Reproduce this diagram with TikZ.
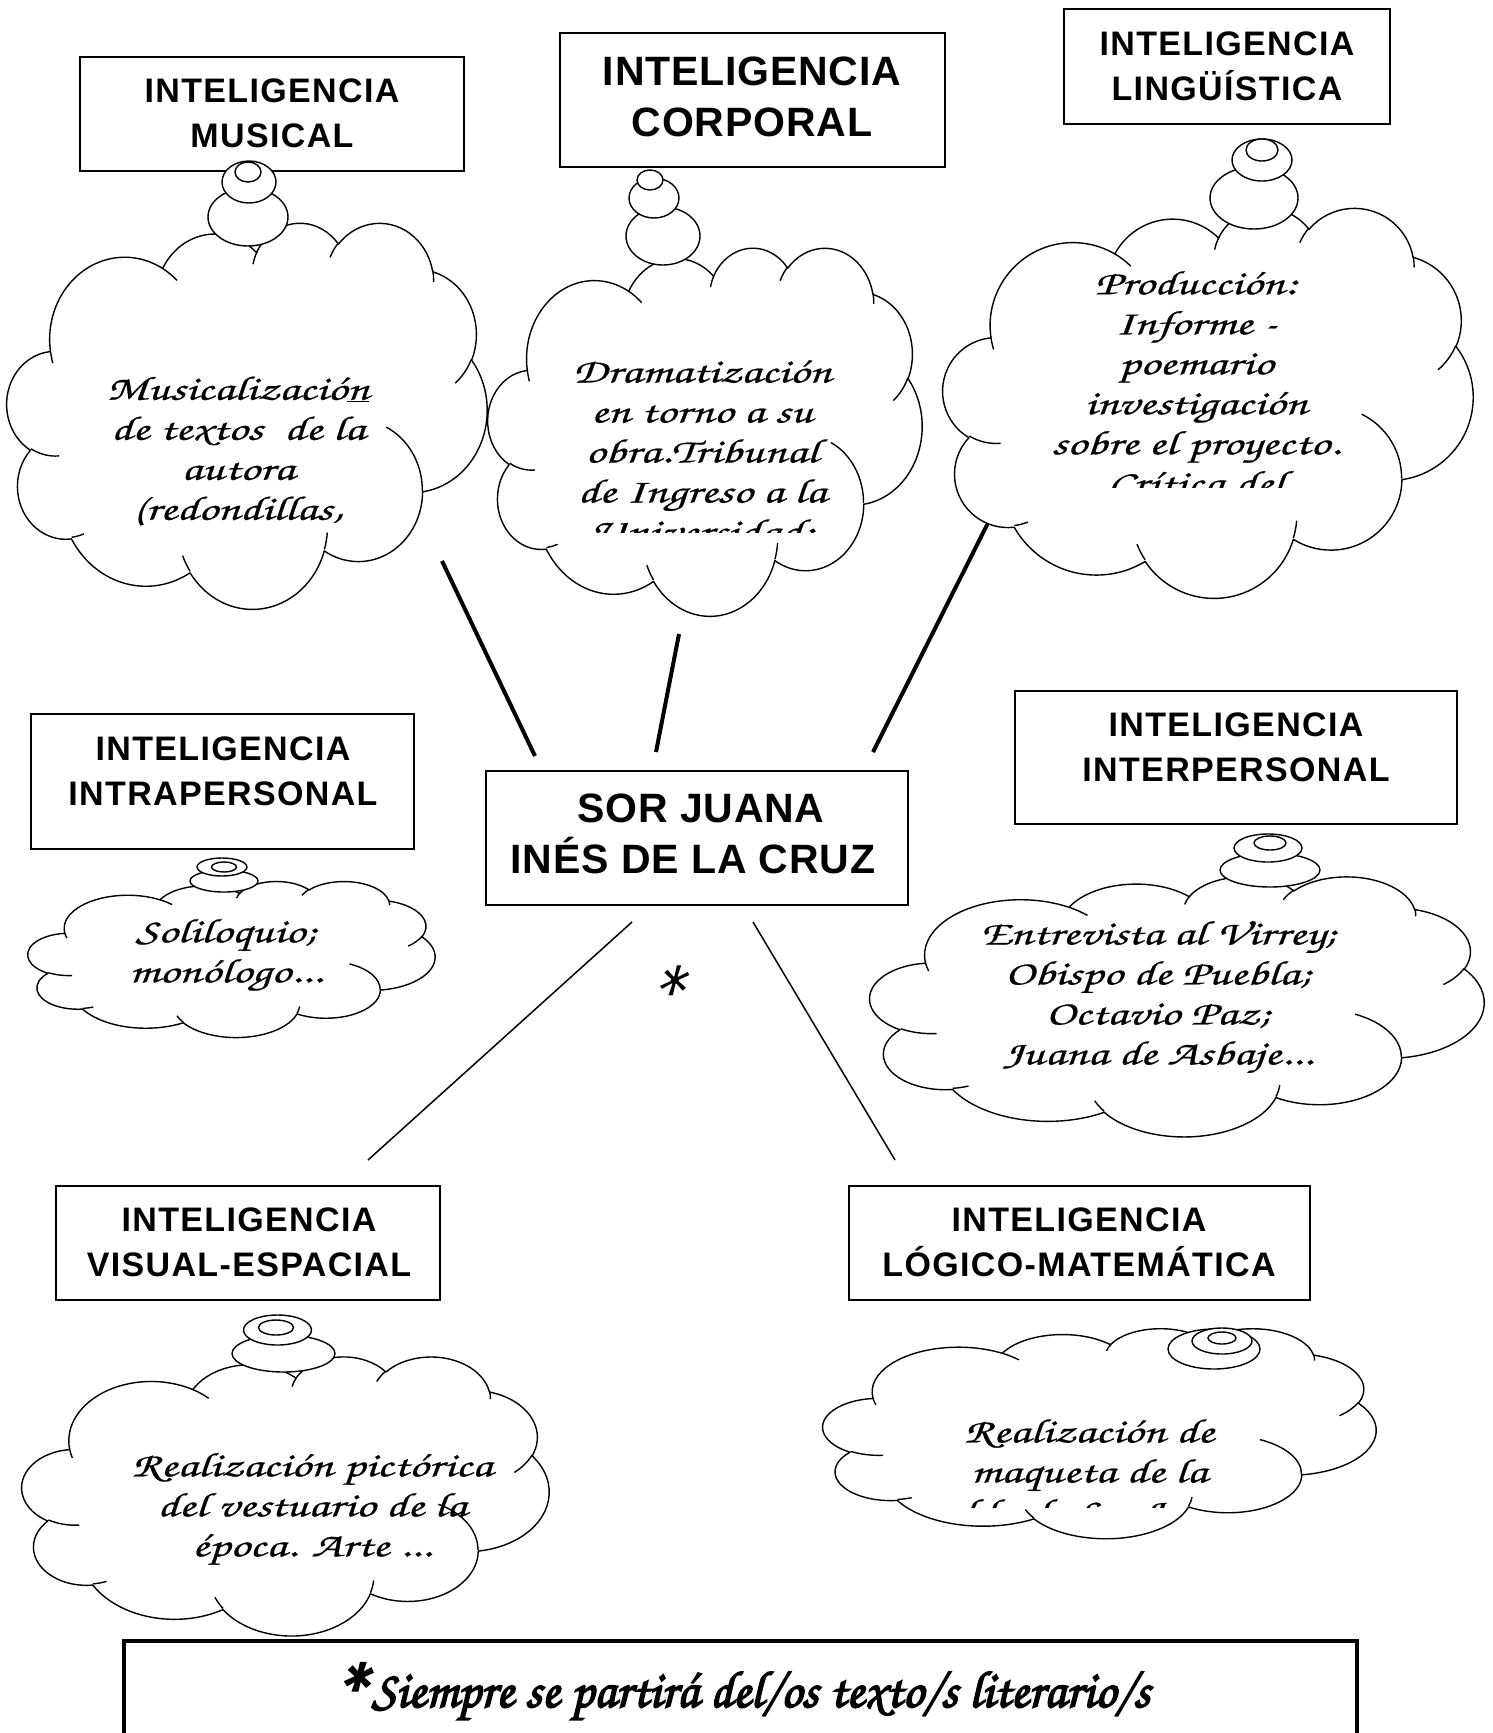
\documentclass[tikz,border=0pt]{standalone}
\usepackage{fontspec}
\setmainfont{Liberation Sans}
\newfontfamily\boxfont{Liberation Sans}[LetterSpace=4]
\newfontfamily\bigboxfont{Liberation Sans}[LetterSpace=2]
\newfontfamily\handfont{texgyrechorus-mediumitalic}[Extension=.otf,FakeStretch=1.43,FakeBold=0.6]
\newfontfamily\starfont{texgyrechorus-mediumitalic}[Extension=.otf]
\newfontfamily\notefont{texgyrechorus-mediumitalic}[Extension=.otf,FakeBold=3]

% ---- cloud geometry (DrawingML cloud, path box 432 x 432, y down) ----
\newcommand\cloudouter{}
\newcommand\cloudinner{}
\newcommand\mkarc[5]{%
  \pgfmathsetmacro\arcA{atan2((#2)*sin(#4),(#3)*cos(#4))}%
  \pgfmathsetmacro\arcB{atan2((#2)*sin((#4)+(#5)),(#3)*cos((#4)+(#5)))}%
  \pgfmathsetmacro\arcD{\arcB-\arcA}%
  \pgfmathsetmacro\arcD{\arcD<0?\arcD+360:\arcD}%
  \xdef#1{#1 arc[start angle=\arcA, delta angle=\arcD, x radius=#2, y radius=#3]}%
}
\mkarc\cloudouter{67.53}{91.90}{-190.4875}{123.7805}
\mkarc\cloudouter{53.33}{72.67}{-144.1024}{89.9452}
\mkarc\cloudouter{43.65}{59.45}{-145.8079}{99.7230}
\mkarc\cloudouter{48.57}{65.95}{-130.9861}{117.2417}
\mkarc\cloudouter{53.33}{72.73}{-78.7089}{109.0269}
\mkarc\cloudouter{67.75}{92.20}{-46.2673}{130.2690}
\mkarc\cloudouter{57.85}{78.67}{0.6250}{114.0333}
\mkarc\cloudouter{67.52}{92.15}{22.4516}{115.1726}
\mkarc\cloudouter{77.20}{105.43}{66.2426}{75.7110}
\mkarc\cloudouter{43.60}{59.18}{-274.9421}{146.7356}
\mkarc\cloudouter{43.45}{59.45}{-246.8285}{152.5189}
\xdef\cloudinner{\cloudinner (46.93,261.77)}\mkarc\cloudinner{43.45}{59.45}{86.7420}{26.4295}
\xdef\cloudinner{\cloudinner (69.28,348.99)}\mkarc\cloudinner{43.60}{59.18}{73.6105}{11.4475}
\xdef\cloudinner{\cloudinner (164.78,390.90)}\mkarc\cloudinner{67.52}{92.15}{137.6242}{14.0811}
\xdef\cloudinner{\cloudinner (288.27,347.51)}\mkarc\cloudinner{67.52}{92.15}{6.4533}{15.9984}
\xdef\cloudinner{\cloudinner (341.29,229.54)}\mkarc\cloudinner{57.85}{78.67}{-70.2924}{70.9174}
\xdef\cloudinner{\cloudinner (417.98,153.54)}\mkarc\cloudinner{53.33}{72.73}{30.3180}{27.7515}
\xdef\cloudinner{\cloudinner (383.24,54.26)}\mkarc\cloudinner{48.57}{65.95}{-13.7443}{14.8589}
\xdef\cloudinner{\cloudinner (290.78,39.52)}\mkarc\cloudinner{48.57}{65.95}{-149.1815}{18.1954}
\xdef\cloudinner{\cloudinner (221.41,47.20)}\mkarc\cloudinner{43.65}{59.45}{-163.4943}{17.6864}
\xdef\cloudinner{\cloudinner (140.00,51.92)}\mkarc\cloudinner{67.53}{91.90}{-66.7070}{12.3194}
\xdef\cloudinner{\cloudinner (41.27,157.89)}\mkarc\cloudinner{67.53}{91.90}{157.6544}{11.8582}

\newcommand\drawcloud[4]{% x0 y0 W H  (pixels, y down)
  \pgfmathsetmacro\cldx{#3/432}\pgfmathsetmacro\cldy{#4/432}%
  \begin{scope}[shift={(#1,#2)}, x={(\cldx pt,0pt)}, y={(0pt,-\cldy pt)}]
    \draw[cloudline,fill=white] (39,143.7) \cloudouter -- cycle;
    \draw[cloudline] \cloudinner;
  \end{scope}}

\begin{document}
\begin{tikzpicture}[x=1pt,y=-1pt,
  cloudline/.style={line width=1.4pt, line join=round},
  bubble/.style={line width=1.4pt, fill=white},
  ibox/.style={draw, line width=1.8pt, fill=white, inner sep=0},
  btext/.style={align=center, inner sep=0, font=\boxfont\bfseries\fontsize{34}{45}\selectfont},
  bigtext/.style={align=center, inner sep=0, font=\bigboxfont\bfseries\fontsize{41}{51}\selectfont},
  ctext/.style={align=center, inner sep=0, font=\handfont\fontsize{34}{40}\selectfont},
  thickline/.style={line width=4pt},
  thinline/.style={line width=1.5pt}]

\useasboundingbox (0,0) rectangle (1492,1733);
\fill[white] (0,0) rectangle (1492,1733);
\clip (0,0) rectangle (1492,1733);

% ---------- boxes ----------
\node[ibox, minimum width=384, minimum height=114] (musical) at (272,114) {};
\node[ibox, minimum width=385, minimum height=134] (corporal) at (752.5,100) {};
\node[ibox, minimum width=326, minimum height=115] (linguistica) at (1227,66.5) {};
\node[ibox, minimum width=383, minimum height=135] (intra) at (222.5,781.5) {};
\node[ibox, minimum width=422, minimum height=134] (sorjuana) at (697,838) {};
\node[ibox, minimum width=442, minimum height=133] (inter) at (1236,757.5) {};
\node[ibox, minimum width=384, minimum height=114] (visual) at (248,1243) {};
\node[ibox, minimum width=461, minimum height=114] (logico) at (1079.5,1243) {};

\node[btext] (musical-t) at (272,113) {INTELIGENCIA\\MUSICAL};
\node[bigtext] (corporal-t) at (752,97) {INTELIGENCIA\\CORPORAL};
\node[btext] (linguistica-t) at (1227,66) {INTELIGENCIA\\LINGÜÍSTICA};
\node[btext] (intra-t) at (223,771) {INTELIGENCIA\\INTRAPERSONAL};
\node[bigtext] (sorjuana-t) at (693,834) {\hspace*{16pt}SOR JUANA\\INÉS DE LA CRUZ};
\node[btext] (inter-t) at (1236,747) {INTELIGENCIA\\INTERPERSONAL};
\node[btext] (visual-t) at (249,1242) {INTELIGENCIA\\VISUAL-ESPACIAL};
\node[btext] (logico-t) at (1079,1242) {INTELIGENCIA\\LÓGICO-MATEMÁTICA};

% ---------- connectors ----------
\coordinate (l1a) at (442,561); \coordinate (l1b) at (535,756);
\coordinate (l2a) at (679,634); \coordinate (l2b) at (656,752);
\coordinate (l3a) at (992,515); \coordinate (l3b) at (873,752);
\coordinate (l4a) at (632,922); \coordinate (l4b) at (368,1160);
\coordinate (l5a) at (753,922); \coordinate (l5b) at (895,1160);
\draw[thickline] (l1a) -- (l1b);
\draw[thickline] (l2a) -- (l2b);
\draw[thickline] (l3a) -- (l3b);
\draw[thinline] (l4a) -- (l4b);
\draw[thinline] (l5a) -- (l5b);

\node[inner sep=0, font=\starfont\fontsize{100}{100}\selectfont] (star) at (659,1000) {*};

% ---------- clouds ----------
\drawcloud{7}{222}{480}{386}
\drawcloud{488}{247}{434}{368}
\drawcloud{943}{207}{530}{390}
\drawcloud{28}{881}{407}{156}
\drawcloud{870}{876}{614}{260}
\drawcloud{22}{1356}{527}{279}
\drawcloud{823}{1328}{553}{210}

% ---------- cloud texts ----------
\begin{scope}
  \clip (0,300) rectangle (500,525);
  \node[ctext] (musical-c) at (238,451) {Musicalizació\underline{n}\\de textos~ de la\\autora\\(redondillas,};
\end{scope}
\begin{scope}
  \clip (480,300) rectangle (930,532);
  \node[ctext] (corporal-c) at (702,453) {Dramatización\\en torno a su\\obra.Tribunal\\de Ingreso a la\\Universidad;};
\end{scope}
\begin{scope}
  \clip (940,240) rectangle (1480,487);
  \node[ctext] (linguistica-c) at (1196,384) {Producción:\\Informe -\\poemario\\investigación\\sobre el proyecto.\\Crítica del};
\end{scope}
\node[ctext] (intra-c) at (226,955) {Soliloquio;\\monólogo...};
\node[ctext] (inter-c) at (1158,997) {Entrevista al Virrey;\\Obispo de Puebla;\\Octavio Paz;\\Juana de Asbaje...};
\node[ctext] (visual-c) at (312,1509) {Realización pictórica\\del vestuario de la\\época. Arte ...};
\begin{scope}
  \clip (820,1380) rectangle (1380,1507);
  \node[ctext] (logico-c) at (1089,1473) {Realización de\\maqueta de la\\celda de Sor Juana};
\end{scope}

% ---------- thought bubbles ----------
\draw[bubble] (248,217) ellipse [x radius=40, y radius=29];
\draw[bubble] (249,182) ellipse [x radius=27, y radius=21];
\draw[bubble] (248,172) ellipse [x radius=13, y radius=10];

\draw[bubble] (663,236) ellipse [x radius=37, y radius=29];
\draw[bubble] (654,198) ellipse [x radius=25, y radius=20];
\draw[bubble] (650,180) ellipse [x radius=13, y radius=10];

\draw[bubble] (1254,198) ellipse [x radius=44, y radius=31];
\draw[bubble] (1262,160) ellipse [x radius=30, y radius=21];
\draw[bubble] (1262,150) ellipse [x radius=16, y radius=11];

\draw[bubble] (224,881) ellipse [x radius=34, y radius=11];
\draw[bubble] (222,867) ellipse [x radius=25, y radius=9];
\draw[bubble] (224,867) ellipse [x radius=12.5, y radius=5];

\draw[bubble] (1270,870) ellipse [x radius=50, y radius=17];
\draw[bubble] (1268,848) ellipse [x radius=34, y radius=14];
\draw[bubble] (1270,843) ellipse [x radius=16, y radius=7];

\draw[bubble] (283.5,1353.5) ellipse [x radius=51.5, y radius=18.5];
\draw[bubble] (277.5,1330) ellipse [x radius=34, y radius=15];
\draw[bubble] (276,1327.5) ellipse [x radius=17.5, y radius=7.5];

\draw[bubble] (1214,1349) ellipse [x radius=46, y radius=20];
\draw[bubble] (1222,1341) ellipse [x radius=30, y radius=13];
\draw[bubble] (1222,1338) ellipse [x radius=14, y radius=6];

% ---------- note box ----------
\node[draw, line width=4pt, inner sep=0, minimum width=1233, minimum height=200, anchor=north west] (note) at (122,1639) {};
\node[inner sep=0, anchor=base, font=\notefont\fontsize{52}{52}\selectfont] (note-t) at (738,1707)
  {\raisebox{-0.33em}{\fontsize{90}{90}\selectfont*}\hspace{8pt}Siempre se partirá del/os texto/s literario/s};
\end{tikzpicture}
\end{document}
